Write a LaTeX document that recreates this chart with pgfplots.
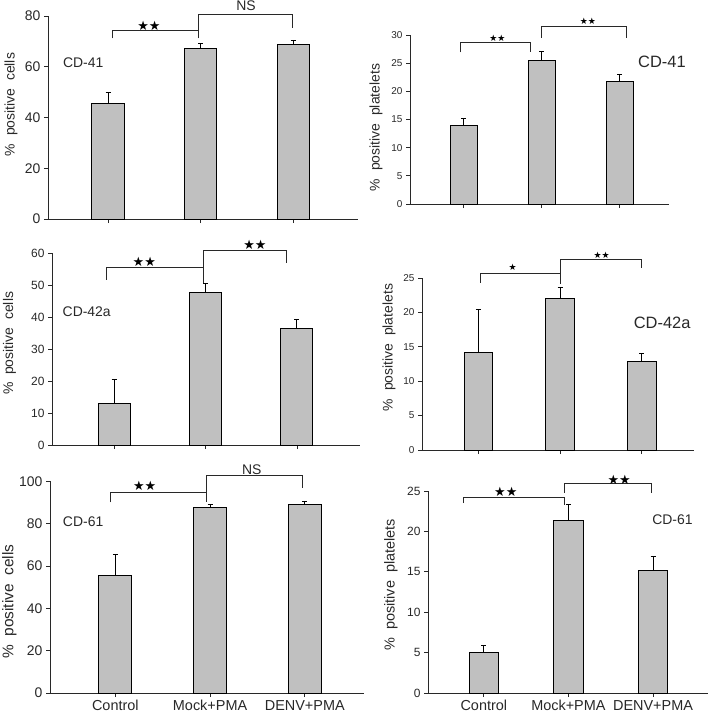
\documentclass[border=0pt]{standalone}
\usepackage{pgfplots}
\pgfplotsset{compat=1.18}
\usepackage{fontspec}
\setmainfont{Liberation Sans}
\newfontfamily\sym{DejaVu Sans}
\definecolor{barfill}{RGB}{192,192,192}
\definecolor{ink}{RGB}{40,40,40}
\newcommand{\fs}[1]{\fontsize{#1}{#1}\selectfont}
\newcommand{\bigstars}{{\sym\fs{13}★★}}
\newcommand{\smallstars}{{\sym\fs{9}★★}}
\newcommand{\smallstar}{{\sym\fs{9}★}}
\tikzset{br/.style={ink, line width=0.8bp}}
\pgfplotsset{
  panel/.style={
    scale only axis, clip=false,
    axis x line*=bottom, axis y line*=left,
    axis line style={ink, line width=0.8bp},
    ymin=0, xtick={0,1,2}, xticklabels={},
    tick style={ink, line width=0.8bp},
    tick align=outside, major tick length=4bp,
    /pgf/number format/assume math mode=true,
    ticklabel style={text=ink},
  },
  ylab/.style n args={3}{ylabel style={at={([xshift=-#1bp]rel axis cs:0,#2)}, anchor=center, font=\fs{#3}, text=ink}},
  mybar/.style={ybar, bar width=0.35, fill=barfill, draw=black, line width=1bp,
    error bars/.cd, y dir=plus, y explicit,
    error bar style={line width=1bp, black},
    error mark options={rotate=90, mark size=2.5bp, line width=1bp, black}},
}
\begin{document}
\begin{tikzpicture}
\path[use as bounding box] (0,0) rectangle (708bp,-716bp);

% Panel 1
\begin{axis}[panel, at={(48bp,-219bp)}, anchor=south west, width=310bp, height=203bp,
  xmin=-0.65, xmax=2.7, ymax=80, ytick={0,20,40,60,80},
  yticklabel style={font=\fs{14}}, ylabel={\%\ \ positive\ \ cells}, ylab={37}{0.564}{14}]
\addplot[mybar] coordinates {(0,45.5) +- (0,4.5) (1,67.3) +- (0,1.8) (2,68.7) +- (0,1.8)};
\draw[br] (axis cs:0.05,71.2) |- (axis cs:0.98,74.2);
\draw[br] (axis cs:0.98,71.2) |- (axis cs:1.99,80.5) -- (axis cs:1.99,75.2);
\node at (axis cs:0.44,76) {\bigstars};
\node[font=\fs{14}, text=ink] at (axis cs:1.49,84) {NS};
\node[font=\fs{14}, text=ink] at (axis cs:-0.27,61.5) {CD-41};
\end{axis}

% Panel 2
\begin{axis}[panel, at={(410bp,-204bp)}, anchor=south west, width=259bp, height=169bp,
  xmin=-0.69, xmax=2.63, ymax=30, ytick={0,5,...,30},
  yticklabel style={font=\fs{10}}, ylabel={\%\ \ positive\ \ platelets}, ylab={34}{0.453}{14}]
\addplot[mybar] coordinates {(0,14.0) +- (0,1.2) (1,25.4) +- (0,1.6) (2,21.7) +- (0,1.2)};
\draw[br] (axis cs:-0.04,26.9) |- (axis cs:0.85,28.6) -- (axis cs:0.85,26.9);
\draw[br] (axis cs:1.0,29.5) |- (axis cs:2.09,31.6) -- (axis cs:2.09,29.5);
\node at (axis cs:0.43,29.4) {\smallstars};
\node at (axis cs:1.59,32.4) {\smallstars};
\node[font=\fs{16.5}, text=ink] at (axis cs:2.54,25.3) {CD-41};
\end{axis}

% Panel 3
\begin{axis}[panel, at={(52bp,-445bp)}, anchor=south west, width=308bp, height=192bp,
  xmin=-0.68, xmax=2.69, ymax=60, ytick={0,10,...,60},
  yticklabel style={font=\fs{12}}, ylabel={\%\ \ positive\ \ cells}, ylab={42.5}{0.529}{14}]
\addplot[mybar] coordinates {(0,12.9) +- (0,7.7) (1,47.6) +- (0,2.9) (2,36.4) +- (0,2.8)};
\draw[br] (axis cs:-0.08,51.7) |- (axis cs:0.975,55.6) -- (axis cs:0.975,50.6);
\draw[br] (axis cs:0.975,55.6) |- (axis cs:1.89,60.9) -- (axis cs:1.89,56.9);
\node at (axis cs:0.33,57.2) {\bigstars};
\node at (axis cs:1.54,62.4) {\bigstars};
\node[font=\fs{14}, text=ink] at (axis cs:-0.3,41.75) {CD-42a};
\end{axis}

% Panel 4
\begin{axis}[panel, at={(422bp,-450bp)}, anchor=south west, width=272bp, height=172bp,
  xmin=-0.69, xmax=2.64, ymax=25, ytick={0,5,...,25},
  yticklabel style={font=\fs{10}}, ylabel={\%\ \ positive\ \ platelets}, ylab={33}{0.596}{14}]
\addplot[mybar] coordinates {(0,14.1) +- (0,6.3) (1,22.0) +- (0,1.6) (2,12.8) +- (0,1.2)};
\draw[br] (axis cs:0.02,24.3) |- (axis cs:1.0,25.7) -- (axis cs:1.0,24.2);
\draw[br] (axis cs:1.0,25.7) |- (axis cs:2.0,27.7) -- (axis cs:2.0,26.5);
\node at (axis cs:0.42,26.6) {\smallstar};
\node at (axis cs:1.51,28.3) {\smallstars};
\node[font=\fs{16.5}, text=ink] at (axis cs:2.25,18.5) {CD-42a};
\end{axis}

% Panel 5
\begin{axis}[panel, at={(50bp,-693bp)}, anchor=south west, width=313.5bp, height=211.6bp,
  xmin=-0.69, xmax=2.62, ymax=100, ytick={0,20,...,100},
  yticklabel style={font=\fs{14}}, ylabel={\%\ \ positive\ \ cells}, ylab={40.5}{0.432}{15.5},
  xticklabels={Control, Mock+PMA, DENV+PMA}, xticklabel style={font=\fs{14.5}}]
\addplot[mybar] coordinates {(0,55.4) +- (0,10.0) (1,87.9) +- (0,1.4) (2,89.1) +- (0,1.6)};
\draw[br] (axis cs:-0.05,90.1) |- (axis cs:0.96,94.8) -- (axis cs:0.96,90.1);
\draw[br] (axis cs:0.96,94.8) |- (axis cs:1.975,102.7) -- (axis cs:1.975,96.9);
\node at (axis cs:0.31,98) {\bigstars};
\node[font=\fs{14}, text=ink] at (axis cs:1.44,105.5) {NS};
\node[font=\fs{14}, text=ink] at (axis cs:-0.34,81) {CD-61};
\end{axis}

% Panel 6
\begin{axis}[panel, at={(428bp,-693bp)}, anchor=south west, width=280bp, height=202bp,
  xmin=-0.66, xmax=2.65, ymax=25, ytick={0,5,...,25},
  yticklabel style={font=\fs{12}}, ylabel={\%\ \ positive\ \ platelets}, ylab={37}{0.535}{14.5},
  xticklabels={Control, Mock+PMA, DENV+PMA}, xticklabel style={font=\fs{14.5}}]
\addplot[mybar] coordinates {(0,5.0) +- (0,0.85) (1,21.3) +- (0,2.0) (2,15.2) +- (0,1.7)};
\draw[br] (axis cs:-0.24,23.5) |- (axis cs:0.95,24.2) -- (axis cs:0.95,23.3);
\draw[br] (axis cs:0.95,24.8) |- (axis cs:1.98,25.9) -- (axis cs:1.98,24.8);
\node at (axis cs:0.26,24.9) {\bigstars};
\node at (axis cs:1.60,26.4) {\bigstars};
\node[font=\fs{14}, text=ink] at (axis cs:2.23,21.4) {CD-61};
\end{axis}
\end{tikzpicture}
\end{document}
